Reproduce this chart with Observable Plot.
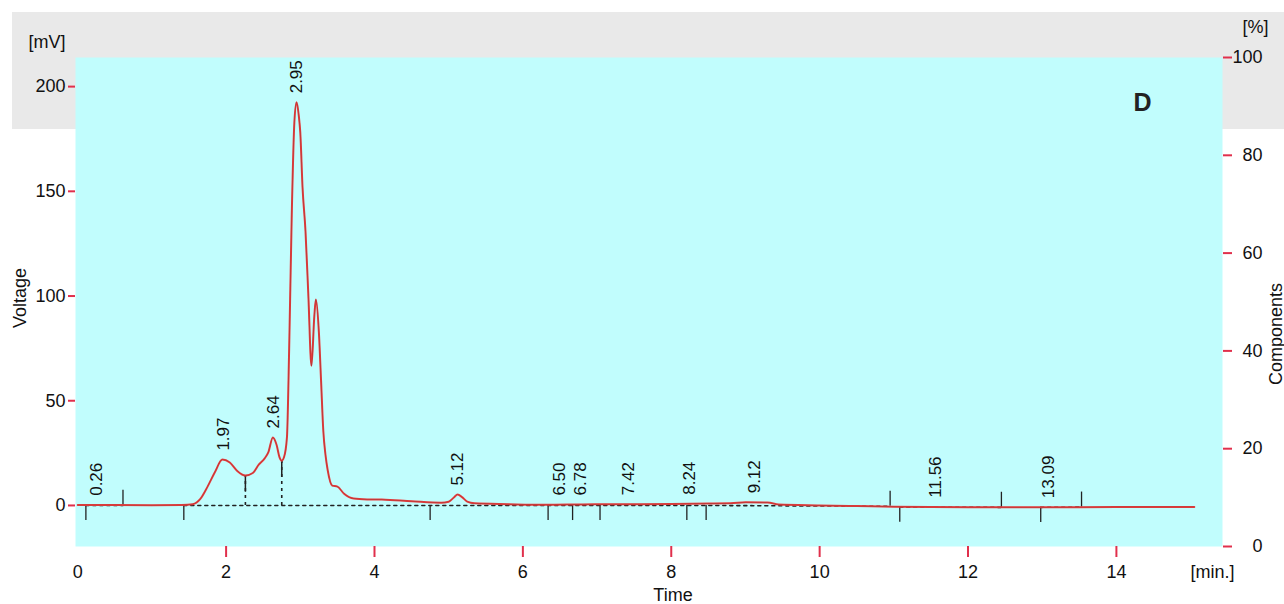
<!DOCTYPE html>
<html>
<head>
<meta charset="utf-8">
<script src="https://cdn.jsdelivr.net/npm/d3@7"></script>
<script src="https://cdn.jsdelivr.net/npm/@observablehq/plot@0.6"></script>
<style>
  html, body { margin: 0; padding: 0; background: #fff; }
  #wrap { position: relative; width: 1284px; height: 604px; }
  #band { position: absolute; left: 12px; top: 12px; width: 1272px; height: 117px; background: #e9e9e9; }
  #chart { position: absolute; left: 0; top: 0; }
</style>
</head>
<body>
<div id="wrap"><div id="band"></div><div id="chart"></div></div>
<script>
// Chromatogram trace (time in min, signal in mV)
const traceTime = [0, 0.5, 1.0, 1.4, 1.55, 1.65, 1.75, 1.85, 1.95, 2.05, 2.15, 2.26, 2.36, 2.44, 2.52, 2.57, 2.63, 2.68, 2.72, 2.75, 2.78, 2.82, 2.85, 2.885, 2.92, 2.95, 2.98, 3.0, 3.03, 3.07, 3.11, 3.15, 3.19, 3.21, 3.25, 3.28, 3.31, 3.34, 3.37, 3.43, 3.5, 3.59, 3.72, 3.9, 4.1, 4.5, 4.9, 5.0, 5.07, 5.12, 5.18, 5.25, 5.35, 5.8, 6.3, 6.8, 7.4, 8.0, 8.5, 8.8, 9.0, 9.3, 9.45, 10.0, 10.5, 11.0, 12.0, 13.0, 14.0, 15.05];
const traceMv = [0.2, 0.2, 0.1, 0.2, 0.6, 3, 9, 16, 21.9, 20.5, 16.5, 14.3, 15.5, 19.5, 22.5, 25.5, 32.5, 29, 23, 21.4, 23, 32.5, 75, 139, 183, 192.5, 186, 178, 152, 131, 99, 66.7, 91, 98.4, 83, 59.5, 35.7, 24, 16.7, 9.5, 9, 5.6, 3.3, 2.9, 2.8, 2.0, 1.3, 1.8, 3.8, 5.2, 4.0, 1.8, 1.0, 0.6, 0.3, 0.5, 0.6, 0.7, 0.9, 1.0, 1.5, 1.4, 0.4, 0, -0.3, -0.6, -0.8, -0.9, -0.7, -0.7];

// Peak retention-time labels
const peakLabels = ["0.26", "1.97", "2.64", "2.95", "5.12", "6.50", "6.78", "7.42", "8.24", "9.12", "11.56", "13.09"];
const peakTimes = [0.26, 1.97, 2.64, 2.95, 5.12, 6.50, 6.78, 7.42, 8.24, 9.12, 11.56, 13.09];
const peakHeights = [0.3, 21.9, 32.5, 192.5, 5.2, 0.4, 0.5, 0.6, 0.8, 1.5, -0.6, -0.8];

// Integration marks (1 = above baseline, -1 = below)
const markTimes = [0.11, 0.61, 1.43, 4.75, 6.34, 6.67, 7.04, 8.21, 8.47, 10.95, 11.08, 12.45, 12.98, 13.53];
const markSides = [-1, 1, -1, -1, -1, -1, -1, -1, -1, 1, -1, 1, -1, 1];
const markLevels = [0, 0, 0, 0, 0, 0, 0, 0, 0, -0.4, -0.8, -0.9, -0.9, -0.8];

// Drop lines between overlapping peaks
const dropTimes = [2.26, 2.75];
const dropTops = [14.3, 21.4];

// Dotted baseline segments
const baselineTime = [0.11, 0.61, 1.43, 4.75, 8.4, 10.95, 11.08, 12.45, 12.98, 13.53];
const baselineMv = [0, 0, 0, 0, 0, -0.4, -0.8, -0.9, -0.9, -0.8];
const baselineGroup = [0, 0, 1, 1, 1, 1, 2, 2, 3, 3];

// Axes
const xTicks = [0, 2, 4, 6, 8, 10, 12, 14];
const yTicks = [0, 50, 100, 150, 200];
const pctTicks = [0, 20, 40, 60, 80, 100];
const xDomain = [-0.03, 15.43];
const yDomain = [-19.6, 213.9];

const RED = "#e0304c";
const pctToMv = p => yDomain[0] + p / 100 * (yDomain[1] - yDomain[0]);
const mvToPct = v => (v - yDomain[0]) / (yDomain[1] - yDomain[0]) * 100;
const tickLen = 7.2; // mV, integration-mark length

const trace = traceTime.map((t, i) => ({t, v: traceMv[i]}));
const base = baselineTime.map((t, i) => ({t, v: baselineMv[i], g: baselineGroup[i]}));
const peaks = peakTimes.map((t, i) => ({t, v: peakHeights[i], label: peakLabels[i]}));
const marks = markTimes.map((t, i) => ({t, y1: markLevels[i], y2: markLevels[i] + markSides[i] * tickLen}));
const drops = dropTimes.map((t, i) => ({t, top: dropTops[i]}));

const plot = Plot.plot({
  width: 1284,
  height: 604,
  marginTop: 57,
  marginRight: 62,
  marginBottom: 58,
  marginLeft: 75,
  style: {fontFamily: "'Liberation Sans', Arial, sans-serif", fontSize: "18px", background: "transparent", overflow: "visible", color: "#111"},
  x: {domain: xDomain},
  y: {domain: yDomain},
  marks: [
    Plot.frame({fill: "#c1fdfd", stroke: "none"}),
    // axes
    Plot.axisY({ticks: yTicks, tickSize: 7, tickPadding: 3, stroke: RED, strokeWidth: 2, fill: "#111", label: null}),
    Plot.axisY({anchor: "right", ticks: pctTicks.map(pctToMv), tickSize: 9, stroke: RED, strokeWidth: 2, tickFormat: () => "", label: null}),
    Plot.axisY({anchor: "right", ticks: pctTicks.map(pctToMv), tickSize: 0, tickPadding: 40, textAnchor: "end", fill: "#111", tickFormat: d => String(Math.round(mvToPct(d))), label: null}),
    Plot.axisX({ticks: xTicks.slice(1), tickSize: 11, stroke: RED, strokeWidth: 2, tickFormat: () => "", label: null}),
    Plot.axisX({ticks: xTicks, tickSize: 0, tickPadding: 19, fill: "#111", label: null}),
    // baseline + integration marks
    Plot.line(base, {x: "t", y: "v", z: "g", stroke: "#222", strokeWidth: 1.6, strokeDasharray: "3,4"}),
    Plot.ruleX(drops, {x: "t", y1: 0, y2: "top", stroke: "#222", strokeWidth: 1.6, strokeDasharray: "3,4"}),
    Plot.ruleX(drops, {x: "t", y1: d => d.top - 8, y2: "top", stroke: "#222", strokeWidth: 1.5}),
    Plot.ruleX(marks, {x: "t", y1: "y1", y2: "y2", stroke: "#222", strokeWidth: 1.3}),
    // trace
    Plot.line(trace, {x: "t", y: "v", curve: "monotone-x", stroke: "#ec3f3f", strokeWidth: 2}),
    Plot.line(trace, {x: "t", y: "v", curve: "monotone-x", stroke: "#6a2a2a", strokeWidth: 0.6, strokeOpacity: 0.55}),
    // peak labels
    Plot.text(peaks, {x: "t", y: "v", text: "label", rotate: -90, textAnchor: "start", lineAnchor: "middle", dy: -9, fontSize: 17, fill: "#111"}),
    // titles
    Plot.text(["[mV]"], {frameAnchor: "top-left", textAnchor: "end", lineAnchor: "middle", dx: -10, dy: -15, fill: "#111"}),
    Plot.text(["[%]"], {frameAnchor: "top-right", textAnchor: "end", lineAnchor: "middle", dx: 46, dy: -30, fill: "#111"}),
    Plot.text(["Voltage"], {frameAnchor: "left", rotate: -90, textAnchor: "middle", lineAnchor: "middle", dx: -55, dy: -4, fill: "#111"}),
    Plot.text(["Components"], {frameAnchor: "right", rotate: -90, textAnchor: "middle", lineAnchor: "middle", dx: 54, dy: 32, fill: "#111"}),
    Plot.text(["Time"], {frameAnchor: "bottom", textAnchor: "middle", lineAnchor: "middle", dx: 24, dy: 49, fill: "#111"}),
    Plot.text(["[min.]"], {x: () => 15, frameAnchor: "bottom", textAnchor: "start", lineAnchor: "middle", dy: 26, fill: "#111"}),
    Plot.text(["D"], {frameAnchor: "top-right", textAnchor: "middle", lineAnchor: "middle", dx: -80, dy: 45, fontSize: 25, fontWeight: "bold", fill: "#222"})
  ]
});
document.getElementById("chart").appendChild(plot);
</script>
</body>
</html>
